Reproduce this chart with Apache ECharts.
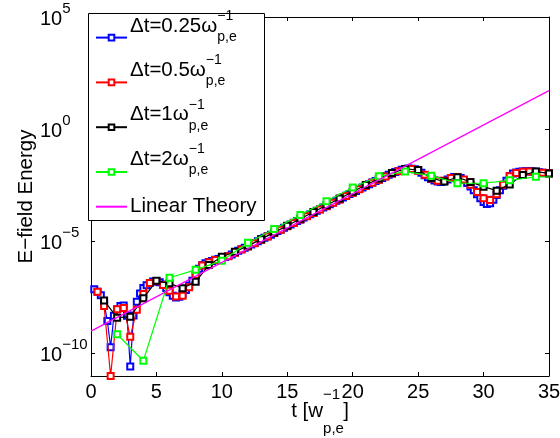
<!DOCTYPE html>
<html><head><meta charset="utf-8">
<script src="https://cdn.jsdelivr.net/npm/echarts@6/dist/echarts.min.js"></script>
<style>html,body{margin:0;padding:0;background:#fff}#c{width:560px;height:438px}</style>
</head><body><div id="c"></div>
<script>
// time samples (units of 1/omega_pe)
const tDt025 = [
 0.25,0.5,0.75,1, 1.25,1.5,1.75,2, 2.25,2.5,2.75,3, 3.25,3.5,3.75,4,
 4.25,4.5,4.75,5, 5.25,5.5,5.75,6, 6.25,6.5,6.75,7, 7.25,7.5,7.75,8,
 8.25,8.5,8.75,9, 9.25,9.5,9.75,10, 10.25,10.5,10.75,11, 11.25,11.5,11.75,12,
 12.25,12.5,12.75,13, 13.25,13.5,13.75,14, 14.25,14.5,14.75,15, 15.25,15.5,15.75,16,
 16.25,16.5,16.75,17, 17.25,17.5,17.75,18, 18.25,18.5,18.75,19, 19.25,19.5,19.75,20,
 20.25,20.5,20.75,21, 21.25,21.5,21.75,22, 22.25,22.5,22.75,23, 23.25,23.5,23.75,24,
 24.25,24.5,24.75,25, 25.25,25.5,25.75,26, 26.25,26.5,26.75,27, 27.25,27.5,27.75,28,
 28.25,28.5,28.75,29, 29.25,29.5,29.75,30, 30.25,30.5,30.75,31, 31.25,31.5,31.75,32,
 32.25,32.5,32.75,33, 33.25,33.5,33.75,34, 34.25,34.5,34.75,35];
// log10 of E-field energy
const logE_dt025 = [
 -7.13,-7.25,-7.40,-7.75, -8.55,-9.72,-8.32,-8.02, -7.88,-7.86,-8.32,-10.58, -8.30,-7.69,-7.32,-7.08,
 -6.95,-6.85,-6.79,-6.78, -6.82,-6.92,-7.08,-7.27, -7.42,-7.50,-7.47,-7.35, -7.17,-6.97,-6.76,-6.52,
 -6.22,-6.06,-5.98,-5.92, -5.87,-5.82,-5.78,-5.74, -5.70,-5.65,-5.58,-5.50, -5.42,-5.35,-5.28,-5.22,
 -5.14,-5.07,-4.99,-4.92, -4.84,-4.77,-4.70,-4.62, -4.54,-4.47,-4.39,-4.32, -4.25,-4.17,-4.09,-4.02,
 -3.94,-3.87,-3.79,-3.72, -3.64,-3.57,-3.49,-3.42, -3.34,-3.27,-3.19,-3.12, -3.04,-2.97,-2.89,-2.82,
 -2.75,-2.67,-2.60,-2.52, -2.45,-2.38,-2.31,-2.24, -2.17,-2.10,-2.03,-1.97, -1.91,-1.86,-1.81,-1.77,
 -1.75,-1.76,-1.79,-1.84, -1.94,-2.05,-2.14,-2.22, -2.29,-2.33,-2.35,-2.32, -2.24,-2.17,-2.13,-2.13,
 -2.18,-2.27,-2.40,-2.55, -2.72,-2.90,-3.08,-3.24, -3.33,-3.30,-3.15,-2.93, -2.72,-2.52,-2.30,-2.10,
 -1.98,-1.93,-1.90,-1.89, -1.88,-1.88,-1.89,-1.90, -1.92,-1.94,-1.95,-1.96];

const tDt05 = [
 0.5,1, 1.5,2, 2.5,3, 3.5,4, 4.5,5, 5.5,6, 6.5,7, 7.5,8, 8.5,9, 9.5,10,
 10.5,11, 11.5,12, 12.5,13, 13.5,14, 14.5,15, 15.5,16, 16.5,17, 17.5,18, 18.5,19, 19.5,20,
 20.5,21, 21.5,22, 22.5,23, 23.5,24, 24.5,25, 25.5,26, 26.5,27, 27.5,28, 28.5,29, 29.5,30,
 30.5,31, 31.5,32, 32.5,33, 33.5,34, 34.5,35];
const logE_dt05 = [
 -7.24,-7.88, -11.0,-8.03, -7.97,-9.25, -8.05,-7.35, -6.86,-6.78, -6.94,-7.20, -7.46,-7.42, -7.05,-6.50, -6.08,-5.93, -5.83,-5.74,
 -5.66,-5.51, -5.36,-5.23, -5.08,-4.93, -4.78,-4.63, -4.48,-4.33, -4.18,-4.03, -3.88,-3.73, -3.58,-3.43, -3.28,-3.13, -2.98,-2.83,
 -2.68,-2.53, -2.39,-2.25, -2.11,-1.98, -1.87,-1.79, -1.77,-1.85, -2.03,-2.20, -2.30,-2.30, -2.18,-2.13, -2.24,-2.48, -2.80,-3.08,
 -3.16,-2.90, -2.48,-2.10, -1.95,-1.90, -1.89,-1.91, -1.94,-1.96];

const tDt1 = [1,2,3,4,5,6,7,8,9,10,11,12,13,14,15,16,17,18,19,20,21,22,23,24,25,26,27,28,29,30,31,32,33,34,35];
const logE_dt1 = [
 -7.64,-8.40,-8.36,-7.54,-6.76,-6.87,-7.09,-6.80,-6.05,-5.68,
 -5.46,-5.20,-4.90,-4.60,-4.30,-3.99,-3.69,-3.39,-3.09,-2.79,
 -2.49,-2.20,-1.95,-1.77,-1.82,-2.18,-2.33,-2.14,-2.35,-2.56,
 -2.74,-2.46,-2.04,-1.89,-1.97];

const tDt2 = [2,4,6,8,10,12,14,16,18,20,22,24,26,28,30,32,34,36];
const logE_dt2 = [
 -9.14,-10.32,-6.62,-6.27,-5.86,-5.06,-4.45,-3.82,-3.21,
 -2.60,-2.10,-1.89,-2.07,-2.41,-2.41,-2.28,-2.12,-2.14];

const tTheory = [0, 35];
const logE_theory = [-9.0, 1.72];

const seriesNames = ['Δt=0.25ω', 'Δt=0.5ω', 'Δt=1ω', 'Δt=2ω', 'Linear Theory'];
const seriesColors = ['#0000ff', '#ff0000', '#000000', '#00ff00', '#ff00ff'];
const xTicks = [0, 5, 10, 15, 20, 25, 30, 35];
const yTickExps = [-10, -5, 0, 5];

const FONT = 'Liberation Sans';
const pairs = (xs, ys) => xs.map((x, i) => [x, ys[i]]);
const supText = v => (v < 0 ? '\u2212' + (-v) : String(v));

const chart = echarts.init(document.getElementById('c'), null, {renderer: 'canvas'});

const lineSeries = (idx, xs, ys, marker) => ({
  name: seriesNames[idx],
  type: 'line',
  data: pairs(xs, ys),
  xAxisIndex: 0, yAxisIndex: 0,
  symbol: marker ? 'emptyRect' : 'none',
  symbolSize: 6,
  showSymbol: marker,
  color: seriesColors[idx],
  lineStyle: {width: 1.2, color: seriesColors[idx]},
  itemStyle: {color: seriesColors[idx], borderWidth: 1.2},
  animation: false,
  clip: true,
  z: 2 + idx
});

const axisCommon = {
  axisLine: {show: true, onZero: false, lineStyle: {color: '#000', width: 1}},
  axisTick: {show: true, inside: true, length: 4, lineStyle: {color: '#000', width: 1}},
  splitLine: {show: false}
};

// legend layout (pixels)
const LEG_X = 95, LEG_TOP = 33.8, LEG_STEP = 44.2, LEG_ICON_H = 7, LT_ICON_Y = 206.7, LEG_TEXT_X = 130;

const legendRich = {
  m: {fontFamily: FONT, fontSize: 20.5, lineHeight: 20, fill: '#000'},
  sp: {fontFamily: FONT, fontSize: 14, lineHeight: 0, height: 0, verticalAlign: 'top', fill: '#000'},
  h: {fontFamily: FONT, fontSize: 20.5, lineHeight: 2, height: 2, fill: 'rgba(0,0,0,0)'},
  sb: {fontFamily: FONT, fontSize: 14, lineHeight: 2, height: 2, fill: '#000'}
};
const legendTexts = seriesNames.slice(0, 4).map((name, i) => {
  const iconY = LEG_TOP + LEG_ICON_H / 2 + i * LEG_STEP;
  return {
    type: 'text', x: LEG_TEXT_X, y: iconY - 21, z: 6, silent: true,
    style: {
      text: '{m|' + name + '}{sp|\u22121}\n{h|' + name + '}{sb|p,e}',
      rich: legendRich, align: 'left', verticalAlign: 'top',
      fontFamily: FONT, fontSize: 20.5, fill: '#000'
    }
  };
});
legendTexts.push({
  type: 'text', x: LEG_TEXT_X, y: LT_ICON_Y, z: 6, silent: true,
  style: {text: seriesNames[4], fontFamily: FONT, fontSize: 20.5, fill: '#000', align: 'left', verticalAlign: 'middle'}
});

chart.setOption({
  animation: false,
  backgroundColor: '#fff',
  grid: {left: 91, right: 11, top: 17, bottom: 62, containLabel: false, outerBoundsMode: 'none'},
  legend: [
    {
      left: LEG_X, top: LEG_TOP, orient: 'vertical', z: 5,
      itemWidth: 31, itemHeight: LEG_ICON_H, itemGap: LEG_STEP - LEG_ICON_H, itemTextGap: 0,
      padding: 0, selectedMode: false,
      data: seriesNames.slice(0, 4),
      formatter: () => '',
      textStyle: {fontSize: 1}
    },
    {
      left: LEG_X, top: LT_ICON_Y - LEG_ICON_H / 2, orient: 'vertical', z: 5,
      itemWidth: 31, itemHeight: LEG_ICON_H, itemTextGap: 0,
      padding: 0, selectedMode: false,
      data: [{name: seriesNames[4], itemStyle: {opacity: 0}}],
      formatter: () => '',
      textStyle: {fontSize: 1}
    }
  ],
  graphic: {
    elements: [
      {type: 'rect', z: 4, silent: true,
       shape: {x: 88.5, y: 13.5, width: 176, height: 207},
       style: {fill: '#fff', stroke: '#000', lineWidth: 1}}
    ].concat(legendTexts)
  },
  xAxis: [
    Object.assign({}, axisCommon, {
      type: 'value', position: 'bottom', min: 0, max: 35, interval: 5,
      name: '{xm|t [w}{xs|\u22121}{xm|]}\n{xh|t [w}{xb|p,e}',
      nameLocation: 'middle', nameGap: 19, nameMoveOverlap: false,
      nameTextStyle: {
        fontFamily: FONT, color: '#000',
        rich: {
          xm: {fontFamily: FONT, fontSize: 20.5, lineHeight: 32, color: '#000', align: 'left'},
          xs: {fontFamily: FONT, fontSize: 15, lineHeight: 0, height: 0, verticalAlign: 'top', color: '#000', align: 'left', padding: [0, 3, 0, 0]},
          xh: {fontFamily: FONT, fontSize: 20.5, lineHeight: 3, height: 3, color: 'rgba(0,0,0,0)', align: 'left'},
          xb: {fontFamily: FONT, fontSize: 15, lineHeight: 3, height: 3, color: '#000', align: 'left'}
        }
      },
      axisLabel: {show: true, fontFamily: FONT, fontSize: 20, color: '#000', margin: 6,
        customValues: xTicks, formatter: v => String(v)},
      axisTick: Object.assign({}, axisCommon.axisTick, {customValues: xTicks})
    }),
    Object.assign({}, axisCommon, {
      type: 'value', position: 'top', min: 0, max: 35, interval: 5,
      axisLabel: {show: false}
    })
  ],
  yAxis: [
    Object.assign({}, axisCommon, {
      type: 'value', position: 'left', min: -11, max: 5,
      name: 'E\u2212field Energy', nameLocation: 'middle', nameGap: 54, nameRotate: 90,
      nameMoveOverlap: false,
      nameTextStyle: {fontFamily: FONT, fontSize: 20.5, color: '#000'},
      axisLabel: {
        show: true, margin: 51, align: 'left', customValues: yTickExps,
        formatter: v => '{b|10}{s|' + supText(v) + '}',
        rich: {
          b: {fontFamily: FONT, fontSize: 20, lineHeight: 20, color: '#000', padding: [4, 0, 0, 0]},
          s: {fontFamily: FONT, fontSize: 15, lineHeight: 0, height: 3, verticalAlign: 'top', color: '#000'}
        }
      },
      axisTick: Object.assign({}, axisCommon.axisTick, {customValues: yTickExps})
    }),
    Object.assign({}, axisCommon, {
      type: 'value', position: 'right', min: -11, max: 5,
      axisLabel: {show: false},
      axisTick: Object.assign({}, axisCommon.axisTick, {customValues: yTickExps})
    })
  ],
  series: [
    lineSeries(0, tDt025, logE_dt025, true),
    lineSeries(1, tDt05, logE_dt05, true),
    lineSeries(2, tDt1, logE_dt1, true),
    lineSeries(3, tDt2, logE_dt2, true),
    lineSeries(4, tTheory, logE_theory, false)
  ]
});
</script>
</body></html>
